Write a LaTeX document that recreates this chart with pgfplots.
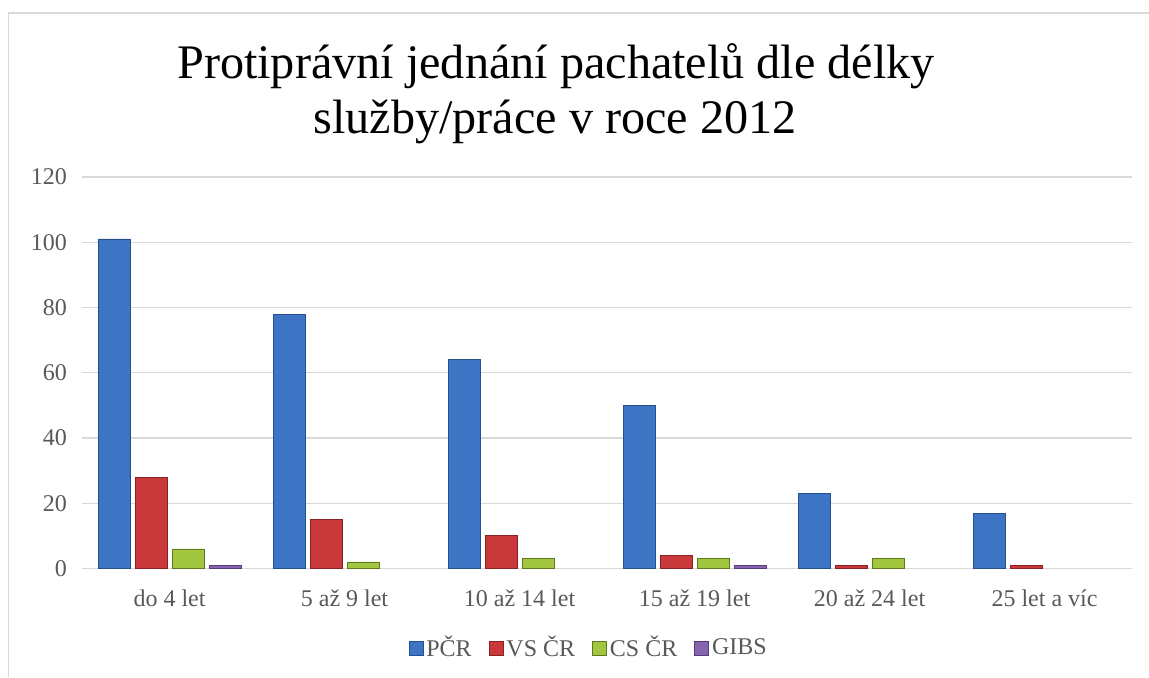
\documentclass[border=0pt]{standalone}
\usepackage{pgfplots}
\pgfplotsset{compat=1.18}
\usepackage{fontspec}
\setmainfont{Liberation Serif}
\definecolor{cBlue}{HTML}{3D74C4}
\definecolor{cBlueD}{HTML}{24508F}
\definecolor{cRed}{HTML}{C9393B}
\definecolor{cRedD}{HTML}{8A2224}
\definecolor{cGreen}{HTML}{A3C641}
\definecolor{cGreenD}{HTML}{5E7A1E}
\definecolor{cPurple}{HTML}{8565B0}
\definecolor{cPurpleD}{HTML}{553D7A}
\definecolor{gridc}{HTML}{D9D9D9}
\definecolor{txt}{HTML}{595959}
\begin{document}
\begin{tikzpicture}
\path[use as bounding box] (0,0) rectangle (574.5pt,338.5pt);
\draw[gridc, line width=0.6pt] (4.25pt,0) -- (4.25pt,332pt) -- (574.5pt,332pt);
\node[anchor=base, font=\fontsize{24.1}{27}\selectfont, inner sep=0pt] at (278pt,299.5pt) {Protiprávní jednání pachatelů dle délky};
\node[anchor=base, font=\fontsize{24.1}{27}\selectfont, inner sep=0pt] at (277.5pt,272pt) {služby/práce v roce 2012};
\begin{axis}[
  at={(41pt,54.25pt)}, anchor=south west,
  scale only axis, width=525pt, height=195.75pt,
  ybar=2.5pt, bar width=16pt,
  xmin=-0.5, xmax=5.5, ymin=0, ymax=120,
  ytick={0,20,...,120},
  xtick={0,1,2,3,4,5},
  xticklabels={do 4 let,5 až 9 let,10 až 14 let,15 až 19 let,20 až 24 let,25 let a víc},
  axis line style={draw=none},
  major tick style={draw=none},
  ymajorgrids, grid style={gridc, line width=0.6pt},
  /pgf/number format/assume math mode=true,
  tick label style={font=\fontsize{12}{14}\selectfont, text=txt},
  yticklabel style={xshift=-4pt},
  xticklabel style={yshift=-3pt},
  legend columns=4,
  legend style={at={(0.483,-0.203)}, anchor=center, draw=none, font=\fontsize{12}{14}\selectfont, text=txt,
    /tikz/every odd column/.style={column sep=0pt},
    /tikz/every even column/.style={column sep=7pt},
    nodes={inner xsep=1.5pt}},
  legend image code/.code={\draw[#1] (0pt,-3.5pt) rectangle (7pt,3.5pt);},
]
\addplot[fill=cBlue, draw=cBlueD, line width=0.4pt] coordinates {(0,101) (1,78) (2,64) (3,50) (4,23) (5,17)};
\addplot[fill=cRed, draw=cRedD, line width=0.4pt] coordinates {(0,28) (1,15) (2,10) (3,4) (4,1) (5,1)};
\addplot[fill=cGreen, draw=cGreenD, line width=0.4pt] coordinates {(0,6) (1,2) (2,3) (3,3) (4,3)};
\addplot[fill=cPurple, draw=cPurpleD, line width=0.4pt] coordinates {(0,1) (3,1)};
\legend{PČR,VS ČR,CS ČR,GIBS}
\end{axis}
\end{tikzpicture}
\end{document}
